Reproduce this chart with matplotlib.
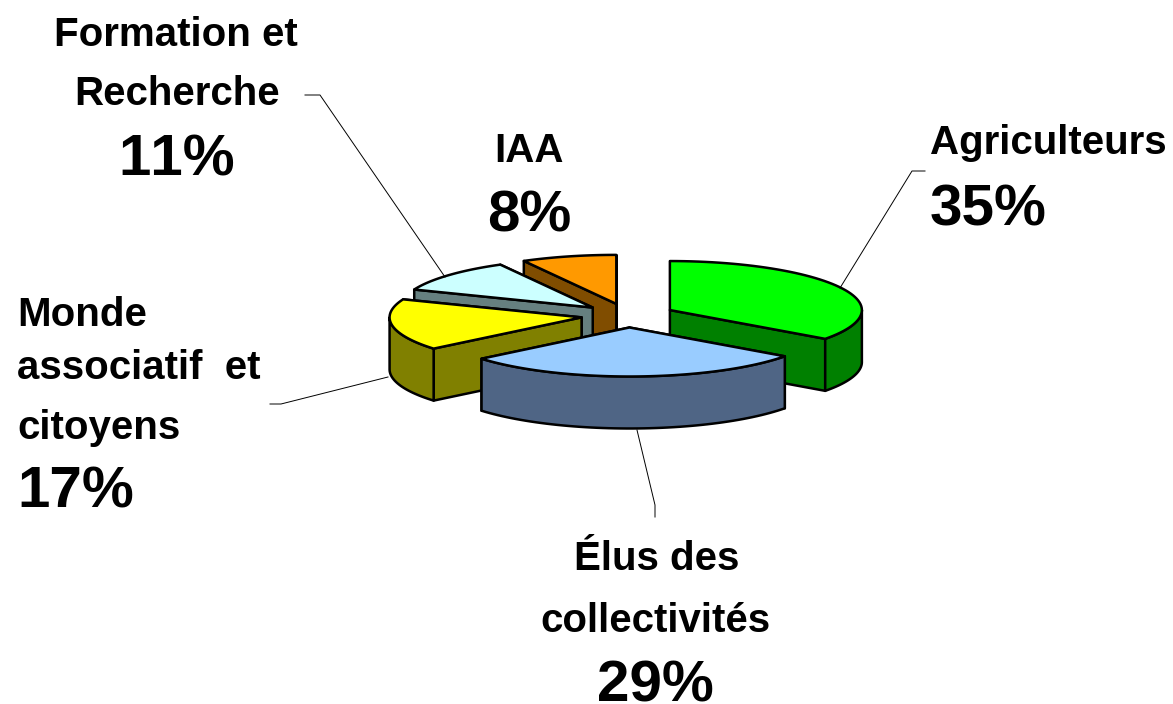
import numpy as np
import matplotlib.pyplot as plt

plt.rcParams['font.family'] = ['Liberation Sans', 'DejaVu Sans']
plt.rcParams['text.kerning_factor'] = 6

# values in the order of the pie, clockwise from 12 o'clock
names = ['Agriculteurs', 'Élus', 'Monde', 'Formation', 'IAA']
values = [35, 29, 17, 11, 8]
top_colors = ['#00FF00', '#99CCFF', '#FFFF00', '#CCFFFF', '#FF9900']
side_colors = ['#008000', '#4F6585', '#808000', '#668080', '#804D00']

# pie geometry, in pixels
cx, cy = 628, 315.5
rx, ry = 192, 49
depth = 52
explode = 47


def pts(x0, y0, a1, a2):
    a = np.radians(np.linspace(a1, a2, 60))
    return x0 + rx * np.sin(a), y0 - ry * np.cos(a)


fig = plt.figure(figsize=(11.73, 7.04), dpi=100)
ax = fig.add_axes([0, 0, 1, 1])
ax.set_xlim(0, 1173)
ax.set_ylim(704, 0)
ax.axis('off')

# angles of the slices
edges = np.concatenate([[0], np.cumsum(values)]) / sum(values) * 360

# back slices first, Élus last
for i in [4, 3, 2, 0, 1]:
    a1, a2 = edges[i], edges[i + 1]
    mid = np.radians((a1 + a2) / 2)
    x0 = cx + explode * np.sin(mid)
    y0 = cy - explode * ry / rx * np.cos(mid)
    kw = dict(edgecolor='black', linewidth=1.8, joinstyle='round')

    # the two cut walls, the one lying lower comes last
    walls = sorted([a1, a2], key=lambda a: -np.cos(np.radians(a)))
    for a in walls:
        ex = x0 + rx * np.sin(np.radians(a))
        ey = y0 - ry * np.cos(np.radians(a))
        ax.fill([x0, ex, ex, x0], [y0, ey, ey + depth, y0 + depth],
                facecolor=side_colors[i], **kw)

    # outer rim, only the part turned to the front
    r1, r2 = max(a1, 90), min(a2, 270)
    if r2 > r1:
        xs, ys = pts(x0, y0, r1, r2)
        ax.fill(np.r_[xs, xs[::-1]], np.r_[ys, ys[::-1] + depth],
                facecolor=side_colors[i], **kw)

    # top face
    xs, ys = pts(x0, y0, a1, a2)
    ax.fill(np.r_[x0, xs], np.r_[y0, ys], facecolor=top_colors[i], **kw)

# leader lines
leaders = [
    ([840, 912, 925], [288, 171, 171]),
    ([637, 655, 655], [430, 505, 517]),
    ([388, 281, 270], [377, 404, 404]),
    ([445, 320, 305], [277, 95, 95]),
]
for lx, ly in leaders:
    ax.plot(lx, ly, color='black', linewidth=0.7)

# labels
name_size = 29
pct_size = 42


def label(x, y, s, size, ha='left'):
    ax.text(x, y, s, fontsize=size, fontweight='bold', ha=ha, va='center')


label(930, 143, 'Agriculteurs', name_size)
label(930, 210, f'{values[0]}%', pct_size)

label(657, 559, 'Élus des', name_size, 'center')
label(655, 621, 'collectivités', name_size, 'center')
label(655, 686, f'{values[1]}%', pct_size, 'center')

label(17, 315, 'Monde', name_size)
label(17, 368, 'associatif  et', name_size)
label(17, 428, 'citoyens', name_size)
label(17, 493, f'{values[2]}%', pct_size)

label(176, 35, 'Formation et', name_size, 'center')
label(177, 94, 'Recherche', name_size, 'center')
label(177, 161, f'{values[3]}%', pct_size, 'center')

label(529, 151, 'IAA', name_size, 'center')
label(529, 217, f'{values[4]}%', pct_size, 'center')

fig.savefig('out.png', dpi=100)
